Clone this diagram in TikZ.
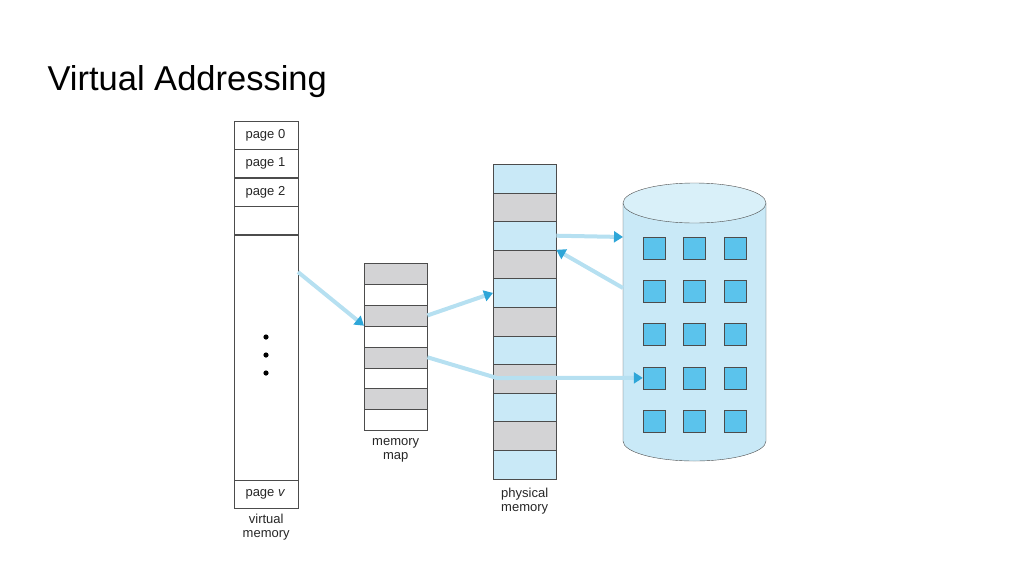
\documentclass[tikz,border=0pt]{standalone}
\usepackage{fontspec}
\setmainfont{Liberation Sans}
\usetikzlibrary{positioning,arrows.meta}
\definecolor{physblue}{HTML}{C9E9F7}
\definecolor{cellgray}{HTML}{D3D3D5}
\definecolor{boxblue}{HTML}{5BC3EC}
\definecolor{arrowblue}{HTML}{2EA6D8}
\tikzset{
  cell/.style={draw=black!70, minimum width=63pt, minimum height=#1, inner sep=0pt, anchor=north west},
  lbl/.style={font=\fontsize{13}{14}\selectfont, align=center, text=black!85},
  move/.style={line width=4pt, draw=arrowblue!35, -{Triangle[length=9pt,width=11pt,fill=arrowblue,color=arrowblue]}},
}
\begin{document}
\begin{tikzpicture}[x=1pt,y=-1pt]
  \useasboundingbox (0,0) rectangle (1024,576);
  \node[anchor=west, font=\fontsize{34.5}{36}\selectfont] (title) at (44,82) {Virtual Addressing};

  %% virtual memory
  \node[cell=28pt, minimum width=64pt] (p0) at (234,121) {};
  \node[anchor=west, lbl, xshift=8pt] at (p0.west) {page 0};
  \node[cell=28pt, minimum width=64pt, below=0pt of p0.south west, anchor=north west] (p1) {};
  \node[anchor=west, lbl, xshift=8pt] at (p1.west) {page 1};
  \node[cell=28pt, minimum width=64pt, below=0pt of p1.south west, anchor=north west] (p2) {};
  \node[anchor=west, lbl, xshift=8pt] at (p2.west) {page 2};
  \node[cell=28pt, minimum width=64pt, below=0pt of p2.south west, anchor=north west] (p3) {};
  \node[cell=245pt, minimum width=64pt, below=0pt of p3.south west, anchor=north west] (pbig) {};
  \node[cell=28pt, minimum width=64pt, below=0pt of pbig.south west, anchor=north west] (pv) {};
  \node[anchor=west, lbl, xshift=8pt] at (pv.west) {page \textit{v}};
  \foreach \i in {-18,0,18} \fill (266,355+\i) circle (2.6pt);
  \node[lbl, below=2pt of pv] (vlbl) {virtual\\memory};

  %% memory map
  \foreach \i in {0,...,7} {
    \pgfmathsetmacro\fc{mod(\i,2)==0 ? "cellgray" : "white"}
    \node[cell=20.9pt, fill=\fc] (m\i) at (364,263+20.9*\i) {};
  }
  \node[lbl, below=4pt of m7] (mlbl) {memory\\map};

  %% physical memory
  \foreach \i in {0,...,10} {
    \pgfmathsetmacro\fc{mod(\i,2)==0 ? "physblue" : "cellgray"}
    \node[cell=28.6pt, fill=\fc] (f\i) at (493,164+28.6*\i) {};
  }
  \node[lbl, below=6pt of f10] (flbl) {physical\\memory};

  %% disk
  \coordinate (disk) at (694.5,322);
  \draw[black!70, fill=physblue] (623,203) -- (623,441) arc[start angle=180, end angle=360, x radius=71.5, y radius=-20] -- (766,203);
  \draw[black!70, fill=physblue!70] (694.5,203) ellipse [x radius=71.5, y radius=20];
  \foreach \r in {0,...,4}
    \foreach \c in {0,...,2}
      \node[draw=black!70, fill=boxblue, minimum size=22pt, inner sep=0pt] (d\r\c) at (654+40.5*\c,248+43.3*\r) {};

  %% transfers
  \coordinate (va) at (298,272);
  \coordinate (bend) at (497,378);
  \coordinate (dl1) at (623,237);
  \coordinate (dl2) at (623,288);
  \draw[move] (va) -- (m3.north west);
  \draw[move] (m2.east) -- (f4.west);
  \draw[move] (f2.east) -- (dl1);
  \draw[move] (dl2) -- (f3.north east);
  \draw[move] (m4.east) -- (bend) -- (d30.west);
\end{tikzpicture}
\end{document}
